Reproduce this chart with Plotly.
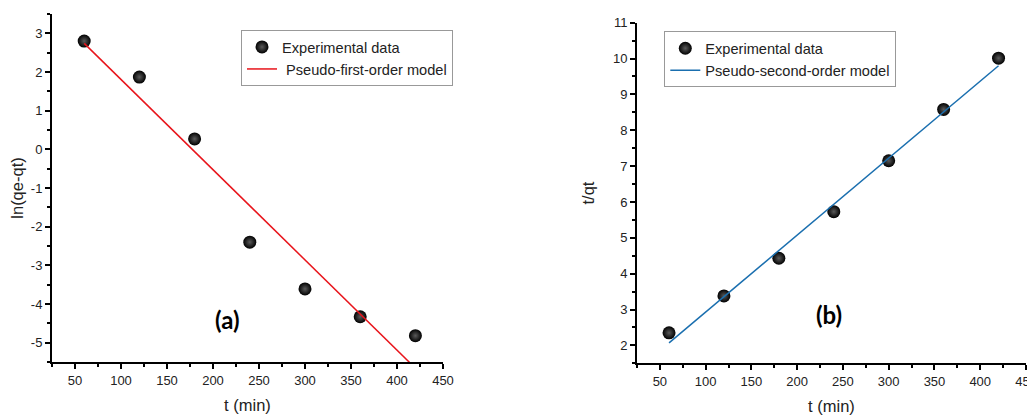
import plotly.graph_objects as go

# ---------------- data ----------------
t_min = [60, 120, 180, 240, 300, 360, 420]
ln_qe_qt = [2.80, 1.87, 0.27, -2.40, -3.61, -4.33, -4.82]
t_over_qt = [2.35, 3.38, 4.43, 5.73, 7.15, 8.58, 10.01]

fit1_t = [60, 420]
fit1_y = [2.74, -5.66]
fit2_t = [60, 420]
fit2_y = [2.07, 9.80]

x_ticks = [50, 100, 150, 200, 250, 300, 350, 400, 450]
y1_ticks = [-5, -4, -3, -2, -1, 0, 1, 2, 3]
y2_ticks = [2, 3, 4, 5, 6, 7, 8, 9, 10, 11]

FONT = "Liberation Sans, Arial, sans-serif"

fig = go.Figure()

marker = dict(size=13, color="#000000",
              gradient=dict(type="radial", color="#5a5a5a"),
              line=dict(width=0))

fig.add_trace(go.Scatter(x=t_min, y=ln_qe_qt, mode="markers", name="Experimental data",
                         marker=marker, xaxis="x", yaxis="y", legend="legend"))
fig.add_trace(go.Scatter(x=fit1_t, y=fit1_y, mode="lines", name=" Pseudo-first-order model",
                         line=dict(color="#e8141b", width=1.5), xaxis="x", yaxis="y",
                         legend="legend"))
fig.add_trace(go.Scatter(x=t_min, y=t_over_qt, mode="markers", name="Experimental data",
                         marker=marker, xaxis="x2", yaxis="y2", legend="legend2"))
fig.add_trace(go.Scatter(x=fit2_t, y=fit2_y, mode="lines", name="Pseudo-second-order model",
                         line=dict(color="#1a6faf", width=1.5), xaxis="x2", yaxis="y2",
                         legend="legend2"))

axis_common = dict(showline=True, linecolor="black", linewidth=2, ticks="outside",
                   ticklen=5, tickwidth=1.5, tickcolor="black", showgrid=False,
                   zeroline=False, mirror=False, automargin=False,
                   ticklabeloverflow="allow",
                   tickfont=dict(family=FONT, size=13, color="#222"))

def minor(d):
    return dict(ticks="outside", ticklen=3, tickwidth=1.5, tickcolor="black",
                showgrid=False, dtick=d, tick0=0)

TITLE_FONT = dict(family=FONT, size=16.5, color="#222")

# page body has an 8px default margin, so the figure is 1027x407 placed at (8, 8)
fig.update_layout(
    width=1027, height=407,
    margin=dict(l=0, r=0, t=0, b=0),
    paper_bgcolor="white", plot_bgcolor="white",
    font=dict(family=FONT, color="#222"),
    xaxis=dict(domain=[0.04284, 0.42356], range=[25, 450], tickvals=x_ticks,
               ticktext=[str(v) for v in x_ticks],
               anchor="y", title=dict(text="t (min)", font=TITLE_FONT, standoff=13),
               minor=minor(25), **axis_common),
    yaxis=dict(domain=[0.13022, 0.98526], range=[-5.5, 3.5], tickvals=y1_ticks,
               ticktext=[str(v) for v in y1_ticks],
               anchor="x", title=dict(text="ln(qe-qt)", font=TITLE_FONT, standoff=6),
               minor=minor(0.5), **axis_common),
    xaxis2=dict(domain=[0.61246, 0.99124], range=[25, 450], tickvals=x_ticks,
                ticktext=[str(v) for v in x_ticks],
                anchor="y2", title=dict(text="t (min)", font=TITLE_FONT, standoff=13),
                minor=minor(25), **axis_common),
    yaxis2=dict(domain=[0.12703, 0.96388], range=[1.5, 11], tickvals=y2_ticks,
                ticktext=[str(v) for v in y2_ticks],
                anchor="x2", title=dict(text="t/qt", font=TITLE_FONT, standoff=14),
                minor=minor(0.5), **axis_common),
    legend=dict(x=0.22688, y=0.946, xanchor="left", yanchor="top",
                bordercolor="#999", borderwidth=1, bgcolor="white",
                font=dict(family=FONT, size=14.6, color="#222"), tracegroupgap=0,
                itemwidth=30),
    legend2=dict(x=0.63905, y=0.9428, xanchor="left", yanchor="top",
                 bordercolor="#999", borderwidth=1, bgcolor="white",
                 font=dict(family=FONT, size=14.6, color="#222"), tracegroupgap=0,
                 itemwidth=30),
    showlegend=True,
    annotations=[
        dict(text="<b>(a)</b>", x=216, y=-4.41, xref="x", yref="y", showarrow=False,
             font=dict(family="Lato, Open Sans, sans-serif", size=24, color="black")),
        dict(text="<b>(b)</b>", x=235, y=2.85, xref="x2", yref="y2", showarrow=False,
             font=dict(family="Lato, Open Sans, sans-serif", size=24, color="black")),
    ],
)

fig.write_html("out.html")
